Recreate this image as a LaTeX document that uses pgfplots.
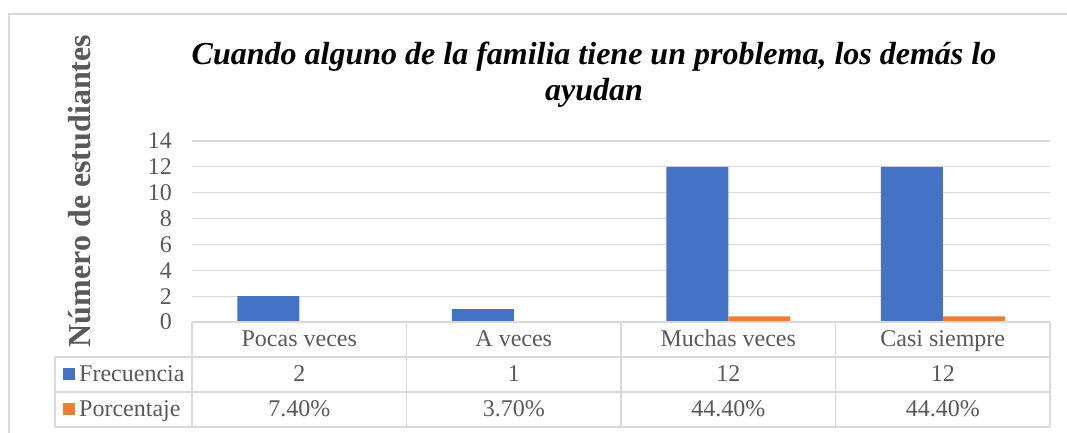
\documentclass[border=0pt]{standalone}
\usepackage{pgfplots}
\pgfplotsset{compat=1.18}
\usepackage{pgfplotstable}
\usepackage{fontspec}
\setmainfont{Liberation Serif}
\definecolor{fblue}{HTML}{4472C4}
\definecolor{porange}{HTML}{ED7D31}
\definecolor{gridgray}{HTML}{D9D9D9}
\definecolor{txtgray}{HTML}{595959}

\pgfplotstableread{
x freq pct
0 2  0.074
1 1  0.037
2 12 0.444
3 12 0.444
}\datos

\newcommand{\tf}{\fontsize{24}{24}\selectfont}

\begin{document}
\begin{tikzpicture}
\useasboundingbox (0,0) rectangle (1067pt,433pt);
% chart border
\draw[gridgray, line width=1.2pt] (9pt,0) -- (9pt,419pt) -- (1067pt,419pt);

\begin{axis}[
    at={(192pt,111pt)}, anchor=south west,
    scale only axis, width=858pt, height=181pt,
    ybar=0pt, bar width=62pt,
    xmin=-0.5, xmax=3.5, ymin=0, ymax=14,
    ytick={0,2,...,14}, xtick=\empty,
    ymajorgrids, grid style={draw=gridgray, line width=1.2pt},
    axis line style={draw=none}, major tick length=0pt,
    yticklabel style={font=\tf, text=txtgray, inner sep=0pt, xshift=-20pt},
    /pgf/number format/assume math mode=true,
    clip=false,
]
\addplot[fill=fblue, draw=none] table[x=x, y=freq] {\datos};
\addplot[fill=porange, draw=none] table[x=x, y=pct] {\datos};
\end{axis}

% data table grid
\begin{scope}[gridgray, line width=1.2pt]
\draw (192pt,111pt) -- (1050pt,111pt);
\draw (55pt,76pt) -- (1050pt,76pt);
\draw (55pt,41pt) -- (1050pt,41pt);
\draw (55pt,6pt) -- (1050pt,6pt);
\draw (55pt,76pt) -- (55pt,6pt);
\foreach \xx in {192,406.5,621,835.5,1050}
  \draw (\xx pt,111pt) -- (\xx pt,6pt);
\end{scope}

% data table text
\begin{scope}[every node/.style={font=\tf, text=txtgray, anchor=base, inner sep=0pt}]
\foreach \xx/\c/\f/\p in {299.25/Pocas veces/2/7.40\%, 513.75/A veces/1/3.70\%,
    728.25/Muchas veces/12/44.40\%, 942.75/Casi siempre/12/44.40\%} {
  \node at (\xx pt,86pt) {\c};
  \node at (\xx pt,51pt) {\f};
  \node at (\xx pt,16pt) {\p};
}
\fill[fblue] (63pt,53pt) rectangle (75pt,65pt);
\fill[porange] (63pt,18pt) rectangle (75pt,30pt);
\node[anchor=base west] at (79pt,51pt) {Frecuencia};
\node[anchor=base west] at (79pt,16pt) {Porcentaje};
\end{scope}

% title
\node[font=\fontsize{32}{37}\selectfont\bfseries\itshape, anchor=base] at (594pt,368pt)
  {Cuando alguno de la familia tiene un problema, los demás lo};
\node[font=\fontsize{32}{37}\selectfont\bfseries\itshape, anchor=base] at (594pt,332pt)
  {ayudan};
% y label
\node[font=\fontsize{32}{32}\selectfont\bfseries, text=txtgray, rotate=90, anchor=base]
  at (90pt,242pt) {Número de estudiantes};
\end{tikzpicture}
\end{document}
